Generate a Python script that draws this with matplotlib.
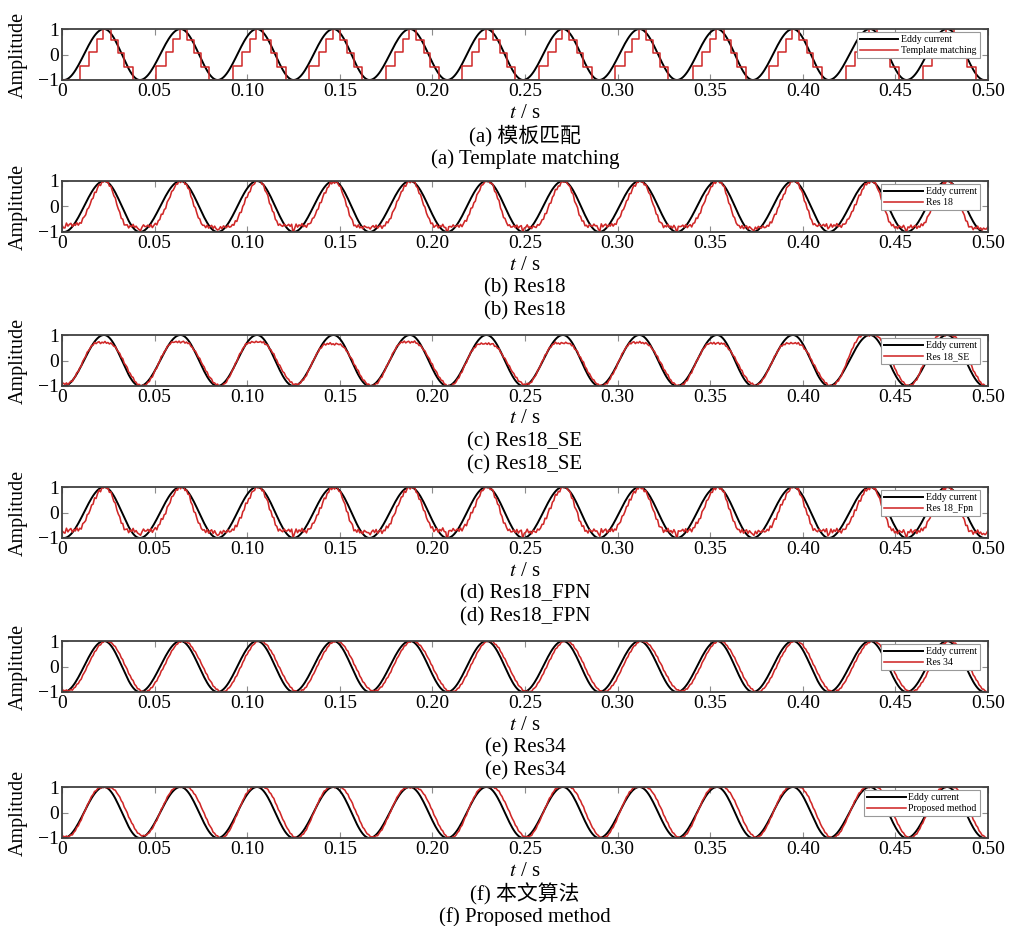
import numpy as np
import matplotlib
matplotlib.use("Agg")
import matplotlib.pyplot as plt

plt.rcParams['font.family'] = ['Liberation Serif', 'Noto Sans CJK SC']
plt.rcParams['mathtext.fontset'] = 'stix'

# eddy current turning points (s)
eddy_trough_t = [0.001, 0.042, 0.084, 0.125, 0.166, 0.208, 0.249, 0.290,
                 0.332, 0.373, 0.414, 0.456, 0.498]
eddy_peak_t = [0.0227, 0.064, 0.1053, 0.1466, 0.1879, 0.2292, 0.2705,
               0.3118, 0.3537, 0.3947, 0.4363, 0.4779]

# template matching: step edges relative to each eddy peak, and held levels
tm_step_dt = [-0.0130, -0.0080, -0.0040, -0.0005, 0.0035, 0.0075, 0.0110, 0.0155]
tm_step_level = [-0.45, 0.1, 0.6, 1.0, 0.55, 0.05, -0.5, -1.0]

# per-cycle trough / peak levels of the network outputs
res18_lo = [-0.72, -0.78, -0.80, -0.75, -0.80, -0.78, -0.80, -0.75, -0.78, -0.82, -0.75, -0.80, -0.85]
res18_dip = [-0.90, -1.0, -1.0, -1.0, -0.90, -1.0, -0.95, -1.0, -1.0, -1.0, -0.85, -1.0, -0.90]
res18_hi = [1.0, 1.0, 1.0, 0.98, 1.0, 1.0, 0.98, 1.0, 1.0, 1.0, 1.0, 1.0]

se_lo = [-0.92, -1.0, -1.0, -0.95, -1.0, -1.0, -0.95, -1.0, -1.0, -0.97, -1.0, -1.0, -1.0]
se_hi = [0.70, 0.72, 0.72, 0.65, 0.72, 0.65, 0.68, 0.70, 0.67, 0.67, 1.0, 1.0]

fpn_lo = [-0.70, -0.72, -0.75, -0.72, -0.75, -0.70, -0.75, -0.72, -0.72, -0.75, -0.72, -0.75, -0.78]
fpn_dip = [-0.85, -0.95, -1.0, -0.95, -0.90, -1.0, -0.95, -0.95, -1.0, -0.95, -0.90, -1.0, -0.90]
fpn_hi = [1.0, 1.0, 0.98, 1.0, 1.0, 1.0, 1.0, 0.98, 1.0, 1.0, 1.0, 1.0]

r34_lo = [-0.95, -1.0, -1.0, -1.0, -0.97, -1.0, -1.0, -1.0, -0.97, -1.0, -1.0, -1.0, -1.0]
r34_hi = [1.0, 1.0, 1.0, 1.0, 1.0, 1.0, 1.0, 1.0, 1.0, 1.0, 1.0, 1.0]

prop_lo = [-0.95, -0.92, -1.0, -1.0, -0.97, -1.0, -0.97, -1.0, -1.0, -0.97, -1.0, -1.0, -1.0]
prop_hi = [0.98, 1.0, 1.0, 1.0, 0.98, 1.0, 1.0, 1.0, 1.0, 1.0, 1.0, 1.0]

# small jagged ripple on the network outputs
ripple = [0.00, 0.05, -0.03, 0.07, -0.05, 0.02, 0.06, -0.06, 0.03, -0.02,
          0.08, -0.04, 0.01, -0.07, 0.04, 0.00, -0.03, 0.06, -0.01]

xticks = [0, 0.05, 0.10, 0.15, 0.20, 0.25, 0.30, 0.35, 0.40, 0.45, 0.50]
xtick_labels = ['0', '0.05', '0.10', '0.15', '0.20', '0.25', '0.30', '0.35', '0.40', '0.45', '0.50']
yticks = [-1, 0, 1]
ytick_labels = ['\u22121', '0', '1']

legend_names = ['Template matching', 'Res 18', 'Res 18_SE', 'Res 18_Fpn', 'Res 34', 'Proposed method']
captions_cn = ['(a) 模板匹配', '(b) Res18', '(c) Res18_SE', '(d) Res18_FPN', '(e) Res34', '(f) 本文算法']
captions_en = ['(a) Template matching', '(b) Res18', '(c) Res18_SE', '(d) Res18_FPN', '(e) Res34', '(f) Proposed method']


def halfcos(tp, vp, t):
    tp = np.asarray(tp)
    vp = np.asarray(vp)
    idx = np.clip(np.searchsorted(tp, t, side='right') - 1, 0, len(tp) - 2)
    t0, t1 = tp[idx], tp[idx + 1]
    s = np.clip((t - t0) / (t1 - t0), 0, 1)
    w = (1 - np.cos(np.pi * s)) / 2
    return vp[idx] + (vp[idx + 1] - vp[idx]) * w


def build(lo_shape, hi_shape, levels):
    ts, vs = [], []
    for i, T in enumerate(eddy_trough_t):
        for dt, key in lo_shape:
            ts.append(T + dt)
            vs.append(levels[key][i] if isinstance(key, str) else key)
        if i < len(eddy_peak_t):
            for dt, key in hi_shape:
                ts.append(eddy_peak_t[i] + dt)
                vs.append(levels[key][i] if isinstance(key, str) else key)
    return ts, vs


t = np.arange(0, 0.5005, 0.0008)
jit = np.resize(np.array(ripple), t.size)

eddy_tp = eddy_trough_t + eddy_peak_t
eddy_vp = [-1.0] * len(eddy_trough_t) + [1.0] * len(eddy_peak_t)
order = np.argsort(eddy_tp)
eddy = halfcos(np.array(eddy_tp)[order], np.array(eddy_vp)[order], t)

# staircase of template matching
tm_t, tm_v = [0.0], [-1.0]
for p in eddy_peak_t:
    for dt, lv in zip(tm_step_dt, tm_step_level):
        tm_t.append(p + dt)
        tm_v.append(lv)
tm_t.append(0.5)
tm_v.append(-1.0)

dip_lo = [(-0.0065, 'lo'), (-0.0012, 'lo'), (0.0, 'dip'), (0.0012, 'lo'), (0.0065, 'lo')]
res18 = halfcos(*build(dip_lo, [(0.0008, 'hi')],
                       {'lo': res18_lo, 'dip': res18_dip, 'hi': res18_hi}), t) + 1.0 * jit
se = halfcos(*build([(0.0015, 'lo')], [(-0.0035, 'hi'), (0.002, 'hi')],
                    {'lo': se_lo, 'hi': se_hi}), t) + 0.6 * jit
fpn = halfcos(*build(dip_lo, [(0.0008, 'hi')],
                     {'lo': fpn_lo, 'dip': fpn_dip, 'hi': fpn_hi}), t) + 1.2 * jit
r34 = halfcos(*build([(0.0025, 'lo')], [(0.0015, 'hi')],
                     {'lo': r34_lo, 'hi': r34_hi}), t) + 0.45 * jit
prop = halfcos(*build([(0.002, 'lo')], [(-0.0015, 'hi'), (0.003, 'hi')],
                      {'lo': prop_lo, 'hi': prop_hi}), t) + 0.4 * jit

outputs = [None, res18, se, fpn, r34, prop]

W, H = 1009, 926
fig = plt.figure(figsize=(W / 100, H / 100), dpi=100)

tops = [29, 181, 335, 487, 641, 787]
ax_h = 51
left, right = 62, 988
red = '#d02828'

for k in range(6):
    top = tops[k]
    ax = fig.add_axes([left / W, 1 - (top + ax_h) / H, (right - left) / W, ax_h / H])
    ax.plot(t, eddy, color='black', lw=1.4, label='Eddy current')
    if k == 0:
        ax.step(tm_t, tm_v, where='post', color=red, lw=1.1, label=legend_names[k])
    else:
        ax.plot(t, outputs[k], color=red, lw=1.15, label=legend_names[k])
    ax.set_xlim(0, 0.5)
    ax.set_ylim(-1, 1)
    ax.set_xticks(xticks)
    ax.set_xticklabels(xtick_labels)
    ax.set_yticks(yticks)
    ax.set_yticklabels(ytick_labels)
    ax.tick_params(direction='in', length=4, width=0.8, color='0.55',
                   top=True, right=True, labelsize=14, pad=2)
    for sp in ax.spines.values():
        sp.set_linewidth(1.3)
        sp.set_color('0.25')
    leg = ax.legend(loc='upper right', bbox_to_anchor=(0.991, 0.94), borderaxespad=0,
                    fontsize=7, fancybox=False, framealpha=1, edgecolor='0.6',
                    handlelength=4, handletextpad=0.3, borderpad=0.3, labelspacing=0.2)
    leg.get_frame().set_linewidth(0.8)

    bottom = top + ax_h
    cx = (left + right) / 2 / W
    fig.text(18 / W, 1 - (top + ax_h / 2) / H, 'Amplitude', rotation=90,
             ha='center', va='center', fontsize=14.5)
    fig.text(cx, 1 - (bottom + 33) / H, r'$t$ / s', ha='center', va='center', fontsize=15)
    fig.text(cx, 1 - (bottom + 56) / H, captions_cn[k], ha='center', va='center', fontsize=15)
    fig.text(cx, 1 - (bottom + 79) / H, captions_en[k], ha='center', va='center', fontsize=15)

fig.savefig('out.png', dpi=100)
